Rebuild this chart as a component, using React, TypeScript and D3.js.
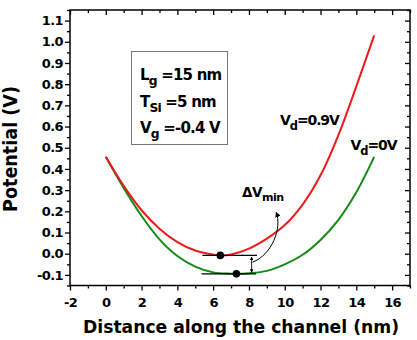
import * as React from 'react';
import * as d3 from 'd3';

// surface potential along the channel for the two drain biases
const distanceVd09: number[] = [0, 1, 2, 3, 4, 5, 6, 6.4, 7, 8, 9, 10, 11, 12, 13, 14, 15];
const potentialVd09: number[] = [0.457, 0.32, 0.205, 0.118, 0.055, 0.015, -0.004, -0.008, -0.004, 0.024, 0.071, 0.135, 0.232, 0.37, 0.56, 0.79, 1.03];
const distanceVd0: number[] = [0, 1, 2, 3, 4, 5, 6, 7, 7.3, 8, 9, 10, 11, 12, 13, 14, 15];
const potentialVd0: number[] = [0.457, 0.31, 0.178, 0.068, -0.011, -0.061, -0.088, -0.094, -0.095, -0.092, -0.081, -0.05, -0.005, 0.065, 0.16, 0.29, 0.457];

// position of the potential minimum for each curve
const minDistance: number[] = [6.4, 7.3];
const minPotential: number[] = [-0.008, -0.095];

// axis ticks
const xMajorTicks: number[] = [-2, 0, 2, 4, 6, 8, 10, 12, 14, 16];
const xMinorTicks: number[] = [-1, 1, 3, 5, 7, 9, 11, 13, 15, 17];
const yMajorTicks: number[] = [-0.1, 0.0, 0.1, 0.2, 0.3, 0.4, 0.5, 0.6, 0.7, 0.8, 0.9, 1.0, 1.1];
const yMinorTicks: number[] = [-0.15, -0.05, 0.05, 0.15, 0.25, 0.35, 0.45, 0.55, 0.65, 0.75, 0.85, 0.95, 1.05, 1.15];

const WIDTH = 417;
const HEIGHT = 340;
const FONT = '"DejaVu Sans", Arial, sans-serif';
const RED = '#f01818';
const GREEN = '#138a13';

const App: React.FC = () => {
	const svgRef = React.useRef<SVGSVGElement>(null);

	React.useEffect(() => {
		const svg = d3.select(svgRef.current);
		svg.selectAll('*').remove();

		const left = 70;
		const right = 410;
		const top = 10;
		const bottom = 285.5;

		const x = d3.scaleLinear().domain([-2, 17]).range([left, right]);
		const y = d3.scaleLinear().domain([-0.15, 1.15]).range([bottom, top]);

		// arrowhead markers
		const defs = svg.append('defs');
		const addMarker = (id: string, size: number) => {
			defs.append('marker')
				.attr('id', id)
				.attr('viewBox', '0 0 10 10')
				.attr('refX', 9)
				.attr('refY', 5)
				.attr('markerWidth', size)
				.attr('markerHeight', size)
				.attr('markerUnits', 'userSpaceOnUse')
				.attr('orient', 'auto-start-reverse')
				.append('path')
				.attr('d', 'M0,0 L10,5 L0,10 Z')
				.attr('fill', '#000');
		};
		addMarker('head', 5.5);
		addMarker('small-head', 3.5);

		// axes: ticks outside on bottom/left, inside on top/right
		const styleAxis = (g: d3.Selection<SVGGElement, unknown, null, undefined>) => {
			g.select('.domain').remove();
			g.selectAll('line').attr('stroke', '#000').attr('stroke-width', 1.3);
			g.selectAll('text')
				.attr('font-family', FONT)
				.attr('font-weight', 'bold')
				.attr('font-size', 13)
				.attr('letter-spacing', -0.6)
				.attr('fill', '#000');
		};

		svg.append('g').attr('transform', `translate(0,${bottom})`)
			.call(d3.axisBottom(x).tickValues(xMajorTicks).tickSize(5).tickPadding(7).tickFormat((d: any) => String(d)))
			.call(styleAxis);
		svg.append('g').attr('transform', `translate(0,${bottom})`)
			.call(d3.axisBottom(x).tickValues(xMinorTicks).tickSize(3).tickFormat(() => ''))
			.call(styleAxis);
		svg.append('g').attr('transform', `translate(0,${top})`)
			.call(d3.axisTop(x).tickValues(xMajorTicks).tickSize(-5).tickFormat(() => ''))
			.call(styleAxis);
		svg.append('g').attr('transform', `translate(0,${top})`)
			.call(d3.axisTop(x).tickValues(xMinorTicks).tickSize(-3).tickFormat(() => ''))
			.call(styleAxis);
		svg.append('g').attr('transform', `translate(${left},0)`)
			.call(d3.axisLeft(y).tickValues(yMajorTicks).tickSize(5).tickPadding(2).tickFormat((d: any) => (+d).toFixed(1)))
			.call(styleAxis);
		svg.append('g').attr('transform', `translate(${left},0)`)
			.call(d3.axisLeft(y).tickValues(yMinorTicks).tickSize(3).tickFormat(() => ''))
			.call(styleAxis);
		svg.append('g').attr('transform', `translate(${right},0)`)
			.call(d3.axisRight(y).tickValues(yMajorTicks).tickSize(-5).tickFormat(() => ''))
			.call(styleAxis);
		svg.append('g').attr('transform', `translate(${right},0)`)
			.call(d3.axisRight(y).tickValues(yMinorTicks).tickSize(-3).tickFormat(() => ''))
			.call(styleAxis);

		// plot frame
		svg.append('rect')
			.attr('x', left).attr('y', top)
			.attr('width', right - left).attr('height', bottom - top)
			.attr('fill', 'none').attr('stroke', '#000').attr('stroke-width', 1.5);

		// axis titles
		svg.append('text')
			.attr('x', (left + right) / 2 + 1).attr('y', 333)
			.attr('text-anchor', 'middle')
			.attr('font-family', FONT).attr('font-weight', 'bold').attr('font-size', 18)
			.attr('textLength', 316).attr('lengthAdjust', 'spacingAndGlyphs')
			.text('Distance along the channel (nm)');
		svg.append('text')
			.attr('transform', 'translate(16.5,149) rotate(-90)')
			.attr('text-anchor', 'middle')
			.attr('font-family', FONT).attr('font-weight', 'bold').attr('font-size', 19)
			.attr('textLength', 126).attr('lengthAdjust', 'spacingAndGlyphs')
			.text('Potential (V)');

		// potential curves
		const line = d3.line<[number, number]>()
			.x((d) => x(d[0]))
			.y((d) => y(d[1]))
			.curve(d3.curveCatmullRom.alpha(0.5));
		svg.append('path')
			.datum(distanceVd0.map((d, i) => [d, potentialVd0[i]] as [number, number]))
			.attr('d', line)
			.attr('fill', 'none').attr('stroke', GREEN).attr('stroke-width', 2);
		svg.append('path')
			.datum(distanceVd09.map((d, i) => [d, potentialVd09[i]] as [number, number]))
			.attr('d', line)
			.attr('fill', 'none').attr('stroke', RED).attr('stroke-width', 2);

		// level lines through each minimum
		const levelFrom = [5.4, 5.35];
		const levelTo = [8.45, 8.4];
		minPotential.forEach((p, i) => {
			svg.append('line')
				.attr('x1', x(levelFrom[i])).attr('x2', x(levelTo[i]))
				.attr('y1', y(p)).attr('y2', y(p))
				.attr('stroke', '#000').attr('stroke-width', 1.2);
		});

		// double arrow between the two minima
		const arrowX = x(8.15);
		svg.append('line')
			.attr('x1', arrowX).attr('x2', arrowX)
			.attr('y1', y(minPotential[0]) + 1.5).attr('y2', y(minPotential[1]) - 1.5)
			.attr('stroke', '#000').attr('stroke-width', 0.9)
			.attr('marker-start', 'url(#small-head)').attr('marker-end', 'url(#small-head)');

		// curved pointer up to the label
		const path = d3.path();
		path.moveTo(x(8.2), y(-0.04));
		path.bezierCurveTo(x(9.26), y(-0.007), x(9.87), y(0.12), x(9.52), y(0.196));
		svg.append('path')
			.attr('d', path.toString())
			.attr('fill', 'none').attr('stroke', '#000').attr('stroke-width', 1)
			.attr('marker-end', 'url(#head)');

		// minimum markers
		svg.selectAll('circle.min')
			.data(minDistance)
			.enter()
			.append('circle')
			.attr('cx', (d) => x(d))
			.attr('cy', (d, i) => y(minPotential[i]))
			.attr('r', 3.8)
			.attr('fill', '#000');

		// labels with subscripts
		const label = (px: number, py: number, size: number, parts: [string, boolean][], spacing = -0.6) => {
			const t = svg.append('text')
				.attr('x', px).attr('y', py)
				.attr('font-family', FONT).attr('font-weight', 'bold').attr('font-size', size)
				.attr('letter-spacing', spacing).attr('fill', '#000');
			parts.forEach(([s, sub], i) => {
				const prevSub = i > 0 && parts[i - 1][1];
				t.append('tspan')
					.attr('dy', sub ? size * 0.33 : prevSub ? -size * 0.33 : 0)
					.attr('font-size', sub ? size * 0.82 : size)
					.text(s);
			});
			return t;
		};

		svg.append('rect')
			.attr('x', 131.5).attr('y', 51.5).attr('width', 96).attr('height', 93)
			.attr('fill', '#fff').attr('stroke', '#777').attr('stroke-width', 1);
		label(140, 80, 15, [['L', false], ['g', true], [' =15 nm', false]], -0.8);
		label(140, 107, 15, [['T', false], ['Si', true], [' =5 nm', false]], -0.8);
		label(140, 133, 15, [['V', false], ['g', true], [' =-0.4 V', false]], -0.8);

		label(280, 125, 14, [['V', false], ['d', true], ['=0.9V', false]], -1.1);
		label(350.5, 150, 14, [['V', false], ['d', true], ['=0V', false]], -1.1);
		label(242, 197, 13.5, [['\u0394V', false], ['min', true]], -0.5);
	}, []);

	return (
		<svg
			ref={svgRef}
			width={WIDTH}
			height={HEIGHT}
			viewBox={`0 0 ${WIDTH} ${HEIGHT}`}
			style={{ position: 'absolute', left: 0, top: 0, background: '#fff' }}
		/>
	);
};

export default App;
